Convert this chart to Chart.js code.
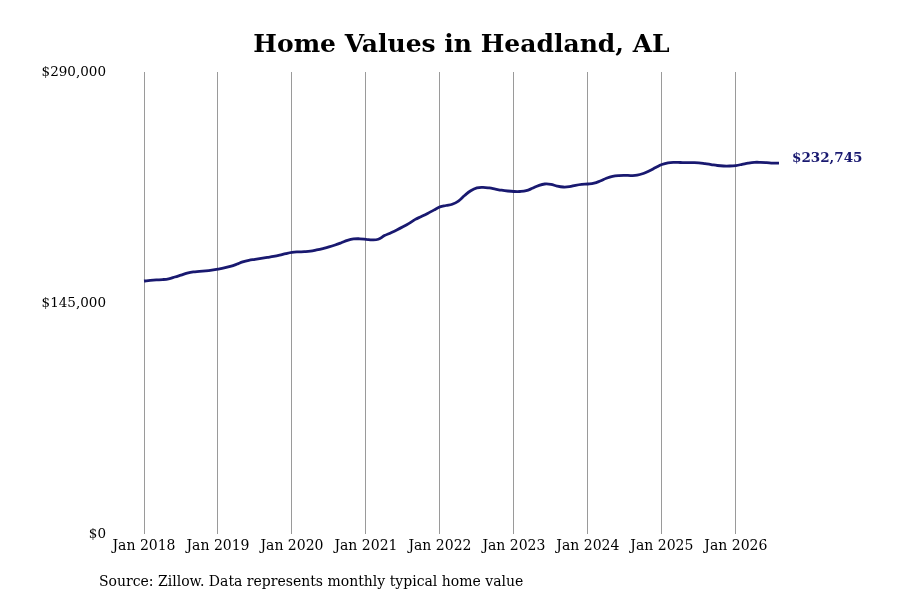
<!DOCTYPE html>
<html>
<head>
<meta charset="utf-8">
<title>Home Values in Headland, AL</title>
<script src="https://cdn.jsdelivr.net/npm/chart.js@4.4.1/dist/chart.umd.min.js"></script>
<style>
  html, body { margin: 0; padding: 0; background: #fff; }
  #wrap { width: 900px; height: 600px; }
</style>
</head>
<body>
<div id="wrap"><canvas id="homeChart" width="900" height="600"></canvas></div>
<script>
// monthly typical home value, Jan 2018 .. Aug 2026
const startYear = 2018;
const homeValues = [
  158800, 159200, 159500, 159700, 160200, 161300, 162500, 163700, 164500, 164800, 165200, 165700,
  166300, 167000, 168000, 169300, 170800, 171800, 172400, 173000, 173600, 174200, 175000, 176000,
  176800, 177100, 177200, 177500, 178300, 179200, 180200, 181400, 182800, 184300, 185200, 185300,
  185000, 184600, 185000, 187300, 189000, 190800, 192800, 195000, 197500, 199300, 201200, 203300,
  205300, 206200, 207000, 209000, 212500, 215500, 217300, 217600, 217200, 216500, 215800, 215300,
  215000, 215000, 215500, 217000, 218700, 219700, 219500, 218400, 217800, 218000, 218900, 219500,
  219700, 220200, 221600, 223300, 224500, 225000, 225100, 225000, 225200, 226300, 228000, 230000,
  231900, 233000, 233300, 233200, 233100, 233100, 233000, 232500, 231900, 231300, 231000, 231000,
  231300, 232000, 232800, 233300, 233300, 233100, 232800, 232745
];
const monthNames = ["Jan", "Feb", "Mar", "Apr", "May", "Jun", "Jul", "Aug", "Sep", "Oct", "Nov", "Dec"];
const monthLabels = homeValues.map((v, i) => monthNames[i % 12] + " " + (startYear + Math.floor(i / 12)));
const yTicks = [0, 145000, 290000];

const chartTitle = "Home Values in Headland, AL";
const sourceNote = "Source: Zillow. Data represents monthly typical home value";
const lineColor = "#191970";

const fmtMoney = v => "$" + Math.round(v).toLocaleString("en-US");

// title, footer and end-of-line value label
const extras = {
  id: "extras",
  afterDraw(chart) {
    const ctx = chart.ctx;
    const area = chart.chartArea;
    ctx.save();
    ctx.fillStyle = "#000";
    ctx.font = "bold 25px 'DejaVu Serif'";
    ctx.textAlign = "center";
    ctx.textBaseline = "alphabetic";
    ctx.fillText(chartTitle, (area.left + area.right) / 2, 52);

    ctx.font = "14px 'DejaVu Serif'";
    ctx.textAlign = "left";
    ctx.fillText(sourceNote, 99, 586);

    const meta = chart.getDatasetMeta(0);
    const last = meta.data[meta.data.length - 1];
    ctx.fillStyle = lineColor;
    ctx.font = "bold 13.5px 'DejaVu Serif'";
    ctx.textBaseline = "middle";
    ctx.fillText(fmtMoney(homeValues[homeValues.length - 1]), last.x + 13, last.y - 5);
    ctx.restore();
  }
};

new Chart(document.getElementById("homeChart"), {
  type: "line",
  data: {
    labels: monthLabels,
    datasets: [{
      data: homeValues,
      borderColor: lineColor,
      borderWidth: 2.8,
      pointRadius: 0,
      tension: 0.4,
      fill: false
    }]
  },
  options: {
    responsive: false,
    animation: false,
    layout: { padding: { top: 72, left: 42, right: 121, bottom: 0 } },
    plugins: {
      legend: { display: false },
      title: { display: false },
      tooltip: { enabled: false }
    },
    scales: {
      x: {
        type: "category",
        offset: false,
        border: { display: false },
        grid: { color: "#9a9a9a", lineWidth: 1, drawTicks: false },
        ticks: {
          autoSkip: false,
          maxRotation: 0,
          padding: 4,
          color: "#000",
          font: { family: "'DejaVu Serif'", size: 14 },
          callback: function (val, i) {
            return i % 12 === 0 ? monthLabels[i] : null;
          }
        },
        afterFit(scale) { scale.height = 66; }
      },
      y: {
        min: 0,
        max: 290000,
        border: { display: false },
        grid: { display: false, drawTicks: false },
        afterBuildTicks(scale) { scale.ticks = yTicks.map(v => ({ value: v })); },
        ticks: {
          padding: 38,
          color: "#000",
          font: { family: "'DejaVu Serif'", size: 13.5 },
          callback: v => fmtMoney(v)
        },
        afterFit(scale) { scale.width = 102; }
      }
    }
  },
  plugins: [extras]
});
</script>
</body>
</html>
